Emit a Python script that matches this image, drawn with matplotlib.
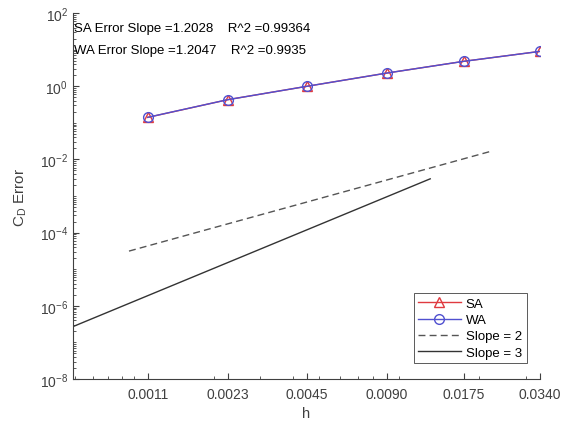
import numpy as np
import matplotlib
matplotlib.use('Agg')
import matplotlib.pyplot as plt
from matplotlib.ticker import FixedLocator, LogLocator, NullFormatter

plt.rcParams['font.family'] = ['Liberation Sans', 'DejaVu Sans']
plt.rcParams['mathtext.default'] = 'regular'

# grid spacing and drag coefficient error
h = [0.00113, 0.00226, 0.0045, 0.0090, 0.0175, 0.0340]
h_labels = ['0.0011', '0.0023', '0.0045', '0.0090', '0.0175', '0.0340']
sa_err = [0.141, 0.43, 1.0, 2.3, 4.8, 9.0]
wa_err = [0.142, 0.43, 1.0, 2.3, 4.8, 9.0]

# reference slope lines
slope2_h = [0.00096, 0.0219]
slope2_c = 34.0
slope3_h = [0.00059, 0.0131]
slope3_c = 1316.0

sa_text = 'SA Error Slope =1.2028    R^2 =0.99364'
wa_text = 'WA Error Slope =1.2047    R^2 =0.9935'

axis_col = '#404040'

fig = plt.figure(figsize=(5.65, 4.27), dpi=100)
ax = fig.add_axes([0.129, 0.110, 0.827, 0.857])

ax.plot(h, sa_err, color='#e03a40', marker='^', markersize=7, mfc='none', lw=1, label='SA')
ax.plot(h, wa_err, color='#5050d0', marker='o', markersize=7, mfc='none', lw=1, label='WA')

s2 = np.array(slope2_h)
ax.plot(s2, slope2_c * s2 ** 2, color='#555555', ls='--', lw=1, dashes=(5, 3), label='Slope = 2')
s3 = np.array(slope3_h)
ax.plot(s3, slope3_c * s3 ** 3, color='#333333', ls='-', lw=1, label='Slope = 3')

ax.set_xscale('log')
ax.set_yscale('log')
ax.set_xlim(0.00059, 0.0340)
ax.set_ylim(1e-8, 1e2)

ax.xaxis.set_major_locator(FixedLocator(h))
ax.set_xticklabels(h_labels)
ax.xaxis.set_minor_locator(LogLocator(base=10, subs=np.arange(1, 10)))
ax.xaxis.set_minor_formatter(NullFormatter())
ax.yaxis.set_major_locator(FixedLocator([1e-8, 1e-6, 1e-4, 1e-2, 1e0, 1e2]))
ax.yaxis.set_minor_locator(LogLocator(base=10, subs=np.arange(1, 10), numticks=30))
ax.yaxis.set_minor_formatter(NullFormatter())

for s in ['top', 'right']:
    ax.spines[s].set_visible(False)
for s in ['left', 'bottom']:
    ax.spines[s].set_color(axis_col)
    ax.spines[s].set_linewidth(0.8)
ax.tick_params(which='both', direction='in', colors=axis_col, labelsize=10)
ax.tick_params(which='major', length=4)
ax.tick_params(which='minor', length=2)
ax.tick_params(axis='x', pad=6)

ax.set_xlabel('h', fontsize=10.5, color=axis_col, labelpad=3)
ax.set_ylabel('$C_D$ Error', fontsize=11, color=axis_col, labelpad=8)

ax.text(0.003, 0.975, sa_text, transform=ax.transAxes, ha='left', va='top',
        fontsize=9.5, color='black')
ax.text(0.003, 0.915, wa_text, transform=ax.transAxes, ha='left', va='top',
        fontsize=9.5, color='black')

leg = ax.legend(loc='lower right', bbox_to_anchor=(0.985, 0.025), fontsize=9.5,
                fancybox=False, framealpha=1, edgecolor='#404040',
                handlelength=3.2, borderpad=0.35, labelspacing=0.3, handletextpad=0.4)
leg.get_frame().set_linewidth(0.6)

fig.savefig('out.png', dpi=100)
